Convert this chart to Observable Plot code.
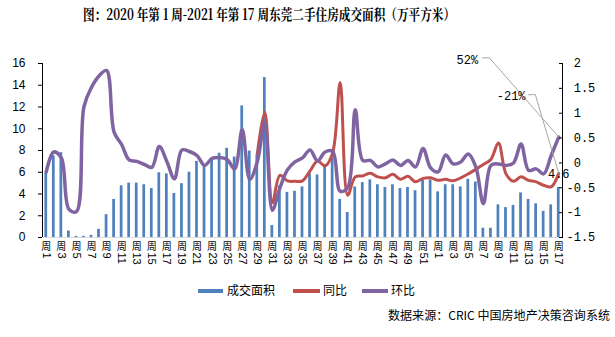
<!DOCTYPE html>
<html><head><meta charset="utf-8">
<script src="https://cdn.jsdelivr.net/npm/d3@7"></script>
<script src="https://cdn.jsdelivr.net/npm/@observablehq/plot@0.6"></script>
<style>
body{margin:0;background:#fff;}
#wrap{position:relative;width:615px;height:337px;background:#fff;overflow:hidden;font-family:"Noto Sans CJK SC","Noto Sans",sans-serif;}
#chart{position:absolute;left:0;top:0;}
#title{position:absolute;left:83px;top:3px;font-weight:bold;font-size:15px;white-space:nowrap;transform-origin:0 0;color:#000;font-family:"Noto Serif CJK SC","Noto Sans CJK SC",serif;}
.lg{position:absolute;top:283px;font-size:12px;white-space:nowrap;color:#000;line-height:14px;}
.sw{position:absolute;top:289px;height:4px;}
#src{position:absolute;top:306px;left:388px;font-size:12px;white-space:nowrap;color:#000;transform-origin:0 0;}
</style></head>
<body>
<div id="wrap">
<div id="title">图：2020 年第 1 周-2021 年第 17 周东莞二手住房成交面积（万平方米）</div>
<div id="chart"></div>
<div class="sw" style="left:198px;width:25px;background:#4f81bd"></div>
<div class="lg" style="left:227px">成交面积</div>
<div class="sw" style="left:293px;width:27px;background:#c0504d"></div>
<div class="lg" style="left:323px">同比</div>
<div class="sw" style="left:362px;width:26px;background:#8064a2"></div>
<div class="lg" style="left:391px">环比</div>
<div id="src">数据来源：CRIC 中国房地产决策咨询系统</div>
</div>
<script>
// week labels: 2020 weeks 1-52, 2021 weeks 1-17
const weekLabels = [
  1,2,3,4,5,6,7,8,9,10,11,12,13,14,15,16,17,18,19,20,21,22,23,24,25,26,
  27,28,29,30,31,32,33,34,35,36,37,38,39,40,41,42,43,44,45,46,47,48,49,50,51,52,
  1,2,3,4,5,6,7,8,9,10,11,12,13,14,15,16,17
];
// 成交面积 (万平方米)
const area = [
  6.0,7.5,7.8,0.6,0.1,0.1,0.2,0.75,2.1,3.5,4.75,5.0,5.0,4.85,4.5,5.95,5.85,4.05,4.95,6.0,7.0,6.6,7.1,7.75,8.2,7.4,
  12.1,7.95,7.6,14.7,1.1,4.75,4.15,4.25,4.65,5.85,5.75,6.7,7.3,3.5,2.3,4.65,5.05,5.3,4.85,4.6,4.85,4.5,4.6,4.3,5.25,5.3,
  4.2,4.85,4.85,4.65,5.35,5.1,0.85,0.85,3.0,2.75,2.95,4.1,3.5,3.1,2.4,3.0,4.6
];
// 同比 (ratio)
const yoy = [
  null,null,null,null,null,null,null,null,null,null,null,null,null,null,null,null,null,null,null,null,null,null,null,null,null,null,
  null,null,0.18,1.02,-0.8,-0.25,-0.36,-0.37,-0.36,-0.16,0.04,-0.06,0.2,1.62,-0.65,-0.28,-0.26,-0.21,-0.28,-0.3,-0.23,-0.33,-0.27,-0.38,-0.31,-0.3,
  -0.35,-0.33,-0.36,-0.3,-0.22,-0.13,-0.03,0.07,0.4,-0.22,-0.37,-0.28,-0.35,-0.38,-0.45,-0.48,-0.21
];
// 环比 (ratio)
const mom = [
  -0.18,0.22,0.1,-0.93,-0.98,1.13,1.52,1.75,1.86,0.62,0.37,0.06,0.03,-0.03,-0.09,0.33,0.03,-0.32,0.26,0.23,0.15,-0.05,0.09,0.11,0.07,-0.12,
  0.67,-0.33,0.02,0.82,-0.95,-0.5,-0.14,0.02,0.1,0.26,0.04,0.22,0.23,-0.57,-0.5,1.07,0.05,0.05,-0.08,-0.02,0.06,-0.05,0.05,-0.08,0.29,-0.1,
  -0.18,0.16,-0.02,0.02,0.18,-0.08,-0.82,-0.05,-0.02,-0.05,0.0,0.38,-0.15,-0.12,-0.22,0.15,0.52
];
const leftTicks = [0,2,4,6,8,10,12,14,16];
const rightTicks = [2,1.5,1,0.5,0,-0.5,-1,-1.5];
// annotation label anchors (index, left-axis units)
const lbl52 = {text:"52%", i:57.3, v:16.34};
const lead52 = [{i:57.9,v:16.52},{i:58.8,v:16.52}];
const lbl21 = {text:"-21%", i:63.6, v:12.98};
const lead21 = [{i:64.0,v:13.13},{i:64.9,v:13.13}];

const toLeft = r => (r + 1.5) * 16 / 3.5;
const fromLeft = v => v * 3.5 / 16 - 1.5;
const n = area.length;
const rows = area.map((v, i) => ({i, v, yoy: yoy[i], mom: mom[i]}));
const last = rows[n - 1];
const tickIdx = d3.range(0, n, 2);
const fmtR = r => {
  const s = Math.abs(r) < 1e-9 ? "0" : (Math.round(r*10)/10).toString();
  return r < -1e-9 ? s : "\u00a0" + s;
};

const chart = Plot.plot({
  width: 615, height: 280,
  marginLeft: 42, marginRight: 53, marginTop: 63, marginBottom: 43,
  x: {type: "linear", domain: [-0.5, n - 0.5], axis: null},
  y: {domain: [0, 16], axis: null},
  style: {fontFamily: "'Liberation Sans', Arial, sans-serif", fontSize: "12px", color: "#000", background: "transparent", overflow: "visible"},
  marks: [
    Plot.rectY(rows, {x1: d => d.i - 0.5, x2: d => d.i + 0.5, y: "v", fill: "#4f81bd", insetLeft: 2.4, insetRight: 2.4}),
    Plot.ruleY([0], {stroke: "#d9d9d9"}),
    Plot.line(rows.filter(d => d.yoy != null), {x: "i", y: d => toLeft(d.yoy), stroke: "#c0504d", strokeWidth: 3, curve: "catmull-rom"}),
    Plot.line(rows, {x: "i", y: d => toLeft(d.mom), stroke: "#8064a2", strokeWidth: 3.5, curve: "catmull-rom"}),
    Plot.ruleX([-0.5], {stroke: "#000", y1: 0, y2: 16}),
    Plot.ruleX([n - 0.5], {stroke: "#000", y1: 0, y2: 16}),
    Plot.axisY(leftTicks, {anchor: "left", label: null, tickSize: 4, tickPadding: 13, fontSize: 12, fontFamily: "'Liberation Sans', Arial, sans-serif"}),
    Plot.axisY(rightTicks.map(toLeft), {anchor: "right", label: null, tickSize: -4, tickPadding: 8, tickFormat: v => fmtR(fromLeft(v)), textAnchor: "start", fontSize: 12, fontFamily: "'Liberation Mono', monospace"}),
    Plot.axisX(tickIdx, {anchor: "bottom", label: null, tickSize: 0, tickPadding: 15, tickRotate: 90, tickFormat: i => String(weekLabels[i]), fontSize: 11, fontFamily: "'Liberation Sans', Arial, sans-serif"}),
    Plot.text(tickIdx, {x: d => d, y: 0, text: () => "周", dy: 9, fontSize: 10, fontFamily: "Noto Sans CJK SC"}),
    Plot.line([...lead52, {i: last.i, v: toLeft(last.mom)}], {x: "i", y: "v", stroke: "#a6a6a6", strokeWidth: 1}),
    Plot.line([...lead21, {i: last.i, v: toLeft(last.yoy)}], {x: "i", y: "v", stroke: "#a6a6a6", strokeWidth: 1}),
    Plot.text([lbl52, lbl21], {x: "i", y: "v", text: "text", textAnchor: "end", fontSize: 12, fontFamily: "'Liberation Mono', monospace"}),
    Plot.text([last], {x: "i", y: "v", text: d => d.v.toFixed(1), dy: -13, fontSize: 12, fontFamily: "'Liberation Mono', monospace"})
  ]
});
document.getElementById("chart").appendChild(chart);
// fit title to its reference width
const t = document.getElementById("title");
const tw = t.getBoundingClientRect().width;
t.style.transform = `scaleX(${372 / tw})`;
const s = document.getElementById("src");
const sw = s.getBoundingClientRect().width;
s.style.transform = `scaleX(${222 / sw})`;
</script>
</body></html>
